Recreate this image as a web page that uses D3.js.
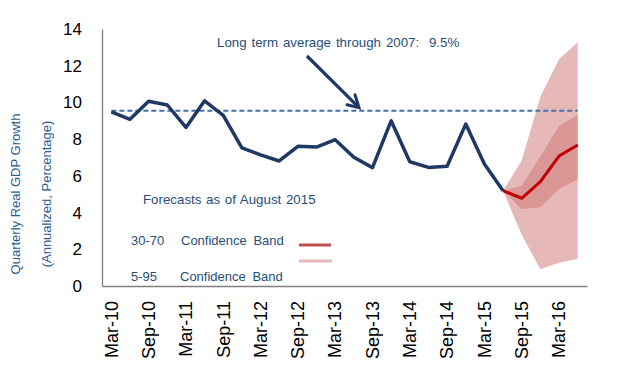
<!DOCTYPE html>
<html><head><meta charset="utf-8">
<script src="https://cdn.jsdelivr.net/npm/d3@7"></script>
<style>body{margin:0;background:#fff}svg{display:block}</style>
</head><body>
<svg id="c" width="635" height="379"></svg>
<script>
const quarters = ["Mar-10","Jun-10","Sep-10","Dec-10","Mar-11","Jun-11","Sep-11","Dec-11","Mar-12","Jun-12","Sep-12","Dec-12","Mar-13","Jun-13","Sep-13","Dec-13","Mar-14","Jun-14","Sep-14","Dec-14","Mar-15","Jun-15","Sep-15","Dec-15","Mar-16","Jun-16"];
const actual = [9.48,9.08,10.06,9.86,8.64,10.09,9.30,7.53,7.14,6.81,7.61,7.57,7.97,7.01,6.45,9.00,6.77,6.46,6.52,8.82,6.64,5.19];
const forecastQuarters = ["Jun-15","Sep-15","Dec-15","Mar-16","Jun-16"];
const forecast = [5.19,4.78,5.68,7.08,7.68];
const band30 = [5.19,4.19,4.29,5.29,5.82];
const band70 = [5.19,5.46,7.06,8.72,9.31];
const band5 = [5.19,2.79,0.91,1.26,1.48];
const band95 = [5.19,6.83,10.31,12.35,13.28];
const longTermAvg = 9.55;
const yTicks = [0,2,4,6,8,10,12,14];
const xTickLabels = ["Mar-10","Sep-10","Mar-11","Sep-11","Mar-12","Sep-12","Mar-13","Sep-13","Mar-14","Sep-14","Mar-15","Sep-15","Mar-16"];

const svg = d3.select("#c");
const L = 102, R = 587, T = 29, B = 286;
const x = d3.scaleBand().domain(quarters).range([L, R]).padding(0);
const cx = q => x(q) + x.bandwidth()/2;
const y = d3.scaleLinear().domain([0,14]).range([B, T]);
const font = "'Liberation Sans', Arial, sans-serif";

// bands
const area = (lo, hi) => d3.area().x((d,i)=>cx(forecastQuarters[i])).y0((d,i)=>y(lo[i])).y1((d,i)=>y(hi[i]));
svg.append("path").datum(band5).attr("d", area(band5, band95)).attr("fill", "#e6b8b7");
svg.append("path").datum(band30).attr("d", area(band30, band70)).attr("fill", "#d99694");

// average dashed line
svg.append("line").attr("x1", cx(quarters[0])).attr("x2", cx(quarters[quarters.length-1]))
  .attr("y1", y(longTermAvg)).attr("y2", y(longTermAvg))
  .attr("stroke", "#4470aa").attr("stroke-width", 2).attr("stroke-dasharray", "5,3");

// actual line
const line = d3.line().x(d=>cx(d.q)).y(d=>y(d.v));
svg.append("path").datum(actual.map((v,i)=>({q:quarters[i], v})))
  .attr("d", line).attr("fill","none").attr("stroke","#1f3864").attr("stroke-width",3.5).attr("stroke-linejoin","round");
svg.append("path").datum(forecast.map((v,i)=>({q:forecastQuarters[i], v})))
  .attr("d", line).attr("fill","none").attr("stroke","#c00000").attr("stroke-width",3).attr("stroke-linejoin","round");

// axes
const yAxis = d3.axisLeft(y).tickValues(yTicks).tickSize(0).tickPadding(20);
const gy = svg.append("g").attr("transform", `translate(${L},0)`).call(yAxis);
gy.select(".domain").attr("stroke","#808080").attr("stroke-width",1.3);
gy.selectAll("text").attr("font-family", font).attr("font-size", 17).attr("fill","#000");

const xAxis = d3.axisBottom(x).tickValues(xTickLabels).tickSize(0).tickPadding(0);
const gx = svg.append("g").attr("transform", `translate(0,${B})`).call(xAxis);
gx.select(".domain").attr("stroke","#808080").attr("stroke-width",1.3);
gx.selectAll("text").attr("font-family", font).attr("font-size", 18).attr("fill","#000")
  .attr("transform","rotate(-90)").attr("text-anchor","end").attr("dy","0.35em").attr("x",-15).attr("y",0);

// y title
const tc = "#2a5d93";
svg.append("text").attr("transform","translate(20,194) rotate(-90)").attr("text-anchor","middle")
  .attr("font-family",font).attr("font-size",13).attr("fill",tc).text("Quarterly Real GDP Growth");
svg.append("text").attr("transform","translate(51,194) rotate(-90)").attr("text-anchor","middle")
  .attr("font-family",font).attr("font-size",13).attr("fill",tc).text("(Annualized, Percentage)");

// annotation
const ac = "#1f4e79";
const txt = (xx, yy, s, fs, ws) => svg.append("text").attr("x",xx).attr("y",yy).attr("font-family",font)
  .attr("font-size",fs).attr("fill",ac).attr("word-spacing",ws).attr("xml:space","preserve").text(s);
txt(217, 47, "Long term average through 2007:  9.5%", 13.3, 1.2);
txt(143, 204, "Forecasts as of August 2015", 13.3, 1);
txt(131, 245, "30-70", 13, 0);
txt(181, 245, "Confidence Band", 13, 3);
txt(131, 281, "5-95", 13, 0);
txt(180, 281, "Confidence Band", 13, 3);
svg.append("line").attr("x1",299).attr("x2",331).attr("y1",245).attr("y2",245).attr("stroke","#c0504d").attr("stroke-width",3);
svg.append("line").attr("x1",299).attr("x2",332).attr("y1",261).attr("y2",261).attr("stroke","#e6b8b7").attr("stroke-width",3);

// arrow
const tipX = 359, tipY = y(longTermAvg) - 3;
svg.append("line").attr("x1",307).attr("y1",56).attr("x2",tipX-1).attr("y2",tipY-1)
  .attr("stroke","#1f3864").attr("stroke-width",3.2);
svg.append("path").attr("d",`M${tipX-4},${tipY-13} L${tipX},${tipY} L${tipX-12},${tipY-3}`)
  .attr("fill","none").attr("stroke","#1f3864").attr("stroke-width",3).attr("stroke-linejoin","miter").attr("stroke-linecap","round");
</script>
</body></html>
